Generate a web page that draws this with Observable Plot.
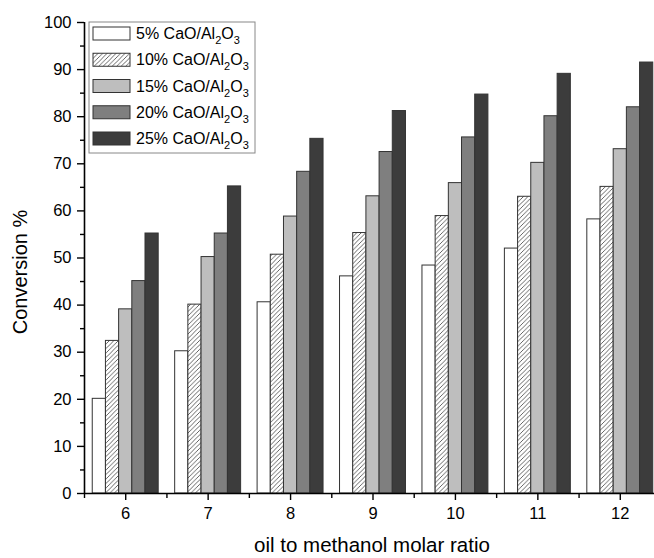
<!DOCTYPE html>
<html><head><meta charset="utf-8">
<script src="https://cdn.jsdelivr.net/npm/d3@7"></script>
<script src="https://cdn.jsdelivr.net/npm/@observablehq/plot@0.6"></script>
<style>body{margin:0;background:#fff} #chart{width:654px;height:558px}</style>
</head><body><div id="chart"></div>
<script>
const ratios = [6, 7, 8, 9, 10, 11, 12];
const series = ["5% CaO/Al2O3", "10% CaO/Al2O3", "15% CaO/Al2O3", "20% CaO/Al2O3", "25% CaO/Al2O3"];
const seriesPct = ["5%", "10%", "15%", "20%", "25%"];
const v5  = [20.1, 30.2, 40.6, 46.1, 48.4, 52.0, 58.2];
const v10 = [32.4, 40.1, 50.7, 55.3, 58.9, 63.0, 65.1];
const v15 = [39.1, 50.2, 58.8, 63.1, 65.9, 70.2, 73.1];
const v20 = [45.1, 55.2, 68.3, 72.5, 75.6, 80.1, 82.0];
const v25 = [55.2, 65.2, 75.3, 81.2, 84.7, 89.1, 91.5];
const yTicks = d3.range(0, 101, 10);
const yMinor = d3.range(5, 100, 10);
const xMinor = d3.range(5.5, 13, 1);
const fills = ["#ffffff", "url(#hatch)", "#bebebe", "#7f7f7f", "#3c3c3c"];
const xLabel = "oil to methanol molar ratio";
const yLabel = "Conversion %";

const allValues = [v5, v10, v15, v20, v25];
const barW = 0.16;
const rows = [];
allValues.forEach((vals, i) => {
  vals.forEach((v, j) => {
    const x1 = ratios[j] - barW * 2.5 + i * barW;
    rows.push({series: series[i], ratio: ratios[j], x1, x2: x1 + barW, value: v});
  });
});

const font = "'Liberation Sans', Arial, sans-serif";
const plot = Plot.plot({
  width: 654,
  height: 558,
  marginTop: 22,
  marginBottom: 65,
  marginLeft: 84,
  marginRight: 0,
  style: {fontFamily: font, fontSize: "16px", color: "#000", background: "#fff", overflow: "visible"},
  x: {domain: [5.5, 12.5], range: [84, 661]},
  y: {domain: [0, 100]},
  color: {domain: series, range: fills},
  marks: [
    Plot.rectY(rows, {x1: "x1", x2: "x2", y: "value", fill: "series", stroke: "#333", strokeWidth: 1}),
    Plot.axisY({ticks: yTicks, tickSize: 7, tickPadding: 6, fontSize: 16.5, label: null, strokeWidth: 1.4}),
    Plot.axisY({ticks: yMinor, tickSize: 4, text: null, label: null, strokeWidth: 1.4}),
    Plot.axisX({ticks: ratios, tickSize: 7, tickPadding: 7, fontSize: 16.5, label: null, strokeWidth: 1.4, tickFormat: d => String(d)}),
    Plot.axisX({ticks: xMinor, tickSize: 5, text: null, label: null, strokeWidth: 1.4}),
    Plot.ruleX([5.5], {stroke: "#000", strokeWidth: 1.6}),
    Plot.ruleY([0], {stroke: "#000", strokeWidth: 1.6})
  ]
});

const svg = d3.select(plot);
const defs = svg.insert("defs", ":first-child");
const pat = defs.append("pattern").attr("id", "hatch").attr("patternUnits", "userSpaceOnUse")
  .attr("width", 4.5).attr("height", 4.5);
pat.append("rect").attr("width", 4.5).attr("height", 4.5).attr("fill", "#fff");
pat.append("path").attr("d", "M-1,1 L1,-1 M0,4.5 L4.5,0 M3.5,5.5 L5.5,3.5")
  .attr("stroke", "#555").attr("stroke-width", 0.9);

// axis titles
svg.append("text").attr("x", 372).attr("y", 552).attr("text-anchor", "middle")
  .style("font-family", font).style("font-size", "20.5px").attr("fill", "#000").text(xLabel);
svg.append("text").attr("transform", "translate(27,272) rotate(-90)").attr("text-anchor", "middle")
  .style("font-family", font).style("font-size", "20px").attr("fill", "#000").text(yLabel);

// legend
const lg = svg.append("g").attr("transform", "translate(89,22)");
lg.append("rect").attr("width", 166).attr("height", 131).attr("fill", "#fff").attr("stroke", "#888").attr("stroke-width", 1);
series.forEach((s, i) => {
  const y = 5 + i * 26.25;
  lg.append("rect").attr("x", 4).attr("y", y).attr("width", 37).attr("height", 13)
    .attr("fill", fills[i]).attr("stroke", "#333").attr("stroke-width", 1);
  const t = lg.append("text").attr("x", 47).attr("y", y + 12).attr("text-anchor", "start")
    .style("font-family", font).style("font-size", "16px").attr("fill", "#000");
  t.append("tspan").text(seriesPct[i] + " CaO/Al");
  t.append("tspan").attr("dy", 5).style("font-size", "11px").text("2");
  t.append("tspan").attr("dy", -5).text("O");
  t.append("tspan").attr("dy", 5).style("font-size", "11px").text("3");
});

document.getElementById("chart").appendChild(plot);
</script>
</body></html>
